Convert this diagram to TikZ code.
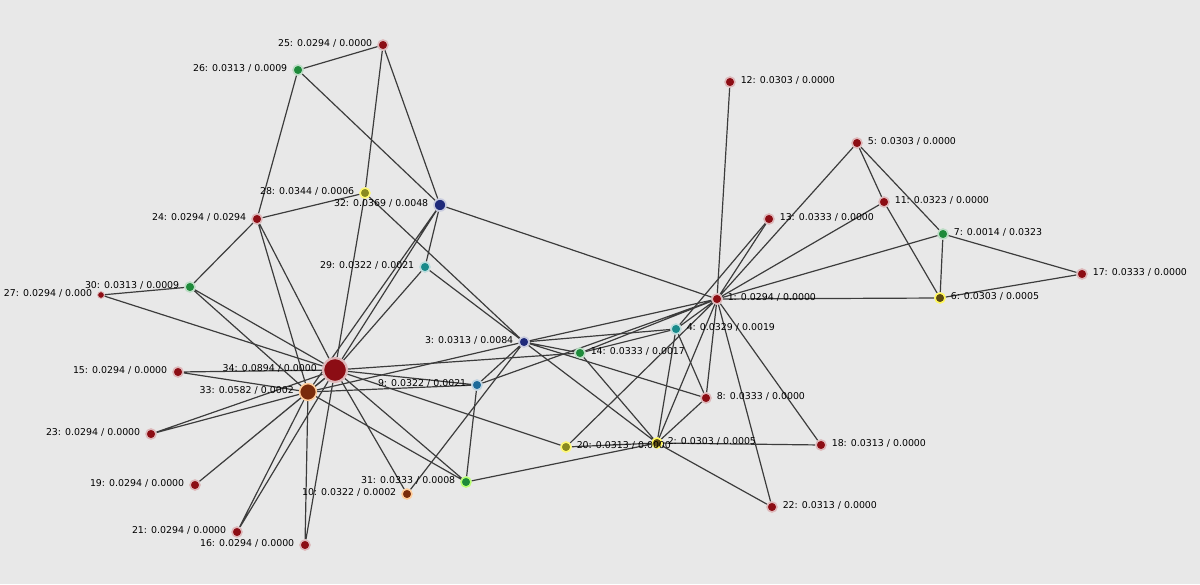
\documentclass[tikz,border=0pt]{standalone}
\usepackage{fontspec}
\setmainfont{DejaVu Sans}
\usepackage{xcolor}
\usepackage{tikz}
\usetikzlibrary{backgrounds}

\definecolor{bgc}{HTML}{E8E8E8}
\definecolor{edgec}{HTML}{3C3C3C}
\definecolor{vred}{HTML}{8C0D14}
\definecolor{vnavy}{HTML}{1F2A7A}
\definecolor{vteal}{HTML}{188A8A}
\definecolor{vblue}{HTML}{1C6A9A}
\definecolor{vgreen}{HTML}{1E8A3A}
\definecolor{volive}{HTML}{8A8A20}
\definecolor{vbrown}{HTML}{7A2C0C}
\definecolor{vdkolive}{HTML}{5C4A12}

\begin{document}
\begin{tikzpicture}[
  x=0.025cm, y=-0.025cm,
  vtx/.style={circle, inner sep=0pt, minimum size=0.25cm, line width=1.1pt,
    label distance=0.3pt},
  red/.style={vtx, fill=vred, draw=vred!30},
  navy/.style={vtx, fill=vnavy, draw=vnavy!25},
  teal/.style={vtx, fill=vteal, draw=vteal!30},
  steel/.style={vtx, fill=vblue, draw=vblue!30},
  green/.style={vtx, fill=vgreen, draw=vgreen!30},
  lime/.style={vtx, fill=vgreen, draw=green!50!yellow!55},
  olive/.style={vtx, fill=volive, draw=yellow!55},
  gold/.style={vtx, fill=vdkolive, draw=yellow!65},
  rust/.style={vtx, fill=vbrown, draw=orange!40},
  every label/.style={font=\fontsize{6.7}{8}\selectfont, text=black, yshift=1pt},
  edge/.style={draw=edgec, line width=0.85pt}
]
\useasboundingbox (0,0) rectangle (1200,584);

% vertices
\node[red, label=right:{1: 0.0294 / 0.0000}] (n1) at (717,299) {};
\node[gold, label=right:{2: 0.0303 / 0.0005}] (n2) at (657,443) {};
\node[navy, label=left:{3: 0.0313 / 0.0084}] (n3) at (524,342) {};
\node[teal, label=right:{4: 0.0329 / 0.0019}] (n4) at (676,329) {};
\node[red, label=right:{5: 0.0303 / 0.0000}] (n5) at (857,143) {};
\node[gold, label=right:{6: 0.0303 / 0.0005}] (n6) at (940,298) {};
\node[green, label=right:{7: 0.0014 / 0.0323}] (n7) at (943,234) {};
\node[red, label=right:{8: 0.0333 / 0.0000}] (n8) at (706,398) {};
\node[steel, label=left:{9: 0.0322 / 0.0021}] (n9) at (477,385) {};
\node[rust, label=left:{10: 0.0322 / 0.0002}] (n10) at (407,494) {};
\node[red, label=right:{11: 0.0323 / 0.0000}] (n11) at (884,202) {};
\node[red, label=right:{12: 0.0303 / 0.0000}] (n12) at (730,82) {};
\node[red, label=right:{13: 0.0333 / 0.0000}] (n13) at (769,219) {};
\node[green, label=right:{14: 0.0333 / 0.0017}] (n14) at (580,353) {};
\node[red, label=left:{15: 0.0294 / 0.0000}] (n15) at (178,372) {};
\node[red, label=left:{16: 0.0294 / 0.0000}] (n16) at (305,545) {};
\node[red, label=right:{17: 0.0333 / 0.0000}] (n17) at (1082,274) {};
\node[red, label=right:{18: 0.0313 / 0.0000}] (n18) at (821,445) {};
\node[red, label=left:{19: 0.0294 / 0.0000}] (n19) at (195,485) {};
\node[olive, label=right:{20: 0.0313 / 0.0000}] (n20) at (566,447) {};
\node[red, label=left:{21: 0.0294 / 0.0000}] (n21) at (237,532) {};
\node[red, label=right:{22: 0.0313 / 0.0000}] (n22) at (772,507) {};
\node[red, label=left:{23: 0.0294 / 0.0000}] (n23) at (151,434) {};
\node[red, label=left:{24: 0.0294 / 0.0294}] (n24) at (257,219) {};
\node[red, label=left:{25: 0.0294 / 0.0000}] (n25) at (383,45) {};
\node[green, label=left:{26: 0.0313 / 0.0009}] (n26) at (298,70) {};
\node[red, minimum size=0.17cm, line width=0.6pt, label=left:{27: 0.0294 / 0.000}] (n27) at (101,295) {};
\node[olive, label=left:{28: 0.0344 / 0.0006}] (n28) at (365,193) {};
\node[teal, label=left:{29: 0.0322 / 0.0021}] (n29) at (425,267) {};
\node[green, label=left:{30: 0.0313 / 0.0009}] (n30) at (190,287) {};
\node[lime, label=left:{31: 0.0333 / 0.0008}] (n31) at (466,482) {};
\node[navy, minimum size=0.3cm, label=left:{32: 0.0369 / 0.0048}] (n32) at (440,205) {};
\node[rust, minimum size=0.42cm, label=left:{33: 0.0582 / 0.0002}] (n33) at (308,392) {};
\node[red, minimum size=0.6cm, line width=1.6pt, label=left:{34: 0.0894 / 0.0000}] (n34) at (335,370) {};

\begin{scope}[on background layer]
\fill[bgc] (0,0) rectangle (1200,584);
% edges
\draw[edge] (n1) -- (n2) (n1) -- (n3) (n1) -- (n4) (n1) -- (n5) (n1) -- (n6) (n1) -- (n7)
  (n1) -- (n8) (n1) -- (n9) (n1) -- (n11) (n1) -- (n12) (n1) -- (n13) (n1) -- (n14)
  (n1) -- (n18) (n1) -- (n20) (n1) -- (n22) (n1) -- (n32);
\draw[edge] (n2) -- (n3) (n2) -- (n4) (n2) -- (n8) (n2) -- (n14) (n2) -- (n18)
  (n2) -- (n20) (n2) -- (n22) (n2) -- (n31);
\draw[edge] (n3) -- (n4) (n3) -- (n8) (n3) -- (n9) (n3) -- (n10) (n3) -- (n14)
  (n3) -- (n28) (n3) -- (n29) (n3) -- (n33);
\draw[edge] (n4) -- (n8) (n4) -- (n13) (n4) -- (n14);
\draw[edge] (n5) -- (n7) (n5) -- (n11);
\draw[edge] (n6) -- (n7) (n6) -- (n11) (n6) -- (n17);
\draw[edge] (n7) -- (n17);
\draw[edge] (n9) -- (n31) (n9) -- (n33) (n9) -- (n34);
\draw[edge] (n10) -- (n34);
\draw[edge] (n14) -- (n34);
\draw[edge] (n15) -- (n33) (n15) -- (n34);
\draw[edge] (n16) -- (n33) (n16) -- (n34);
\draw[edge] (n19) -- (n33) (n19) -- (n34);
\draw[edge] (n20) -- (n34);
\draw[edge] (n21) -- (n33) (n21) -- (n34);
\draw[edge] (n23) -- (n33) (n23) -- (n34);
\draw[edge] (n24) -- (n26) (n24) -- (n28) (n24) -- (n30) (n24) -- (n33) (n24) -- (n34);
\draw[edge] (n25) -- (n26) (n25) -- (n28) (n25) -- (n32);
\draw[edge] (n26) -- (n32);
\draw[edge] (n27) -- (n30) (n27) -- (n34);
\draw[edge] (n28) -- (n34);
\draw[edge] (n29) -- (n32) (n29) -- (n34);
\draw[edge] (n30) -- (n33) (n30) -- (n34);
\draw[edge] (n31) -- (n33) (n31) -- (n34);
\draw[edge] (n32) -- (n33) (n32) -- (n34);
\draw[edge] (n33) -- (n34);
\end{scope}
\end{tikzpicture}
\end{document}
